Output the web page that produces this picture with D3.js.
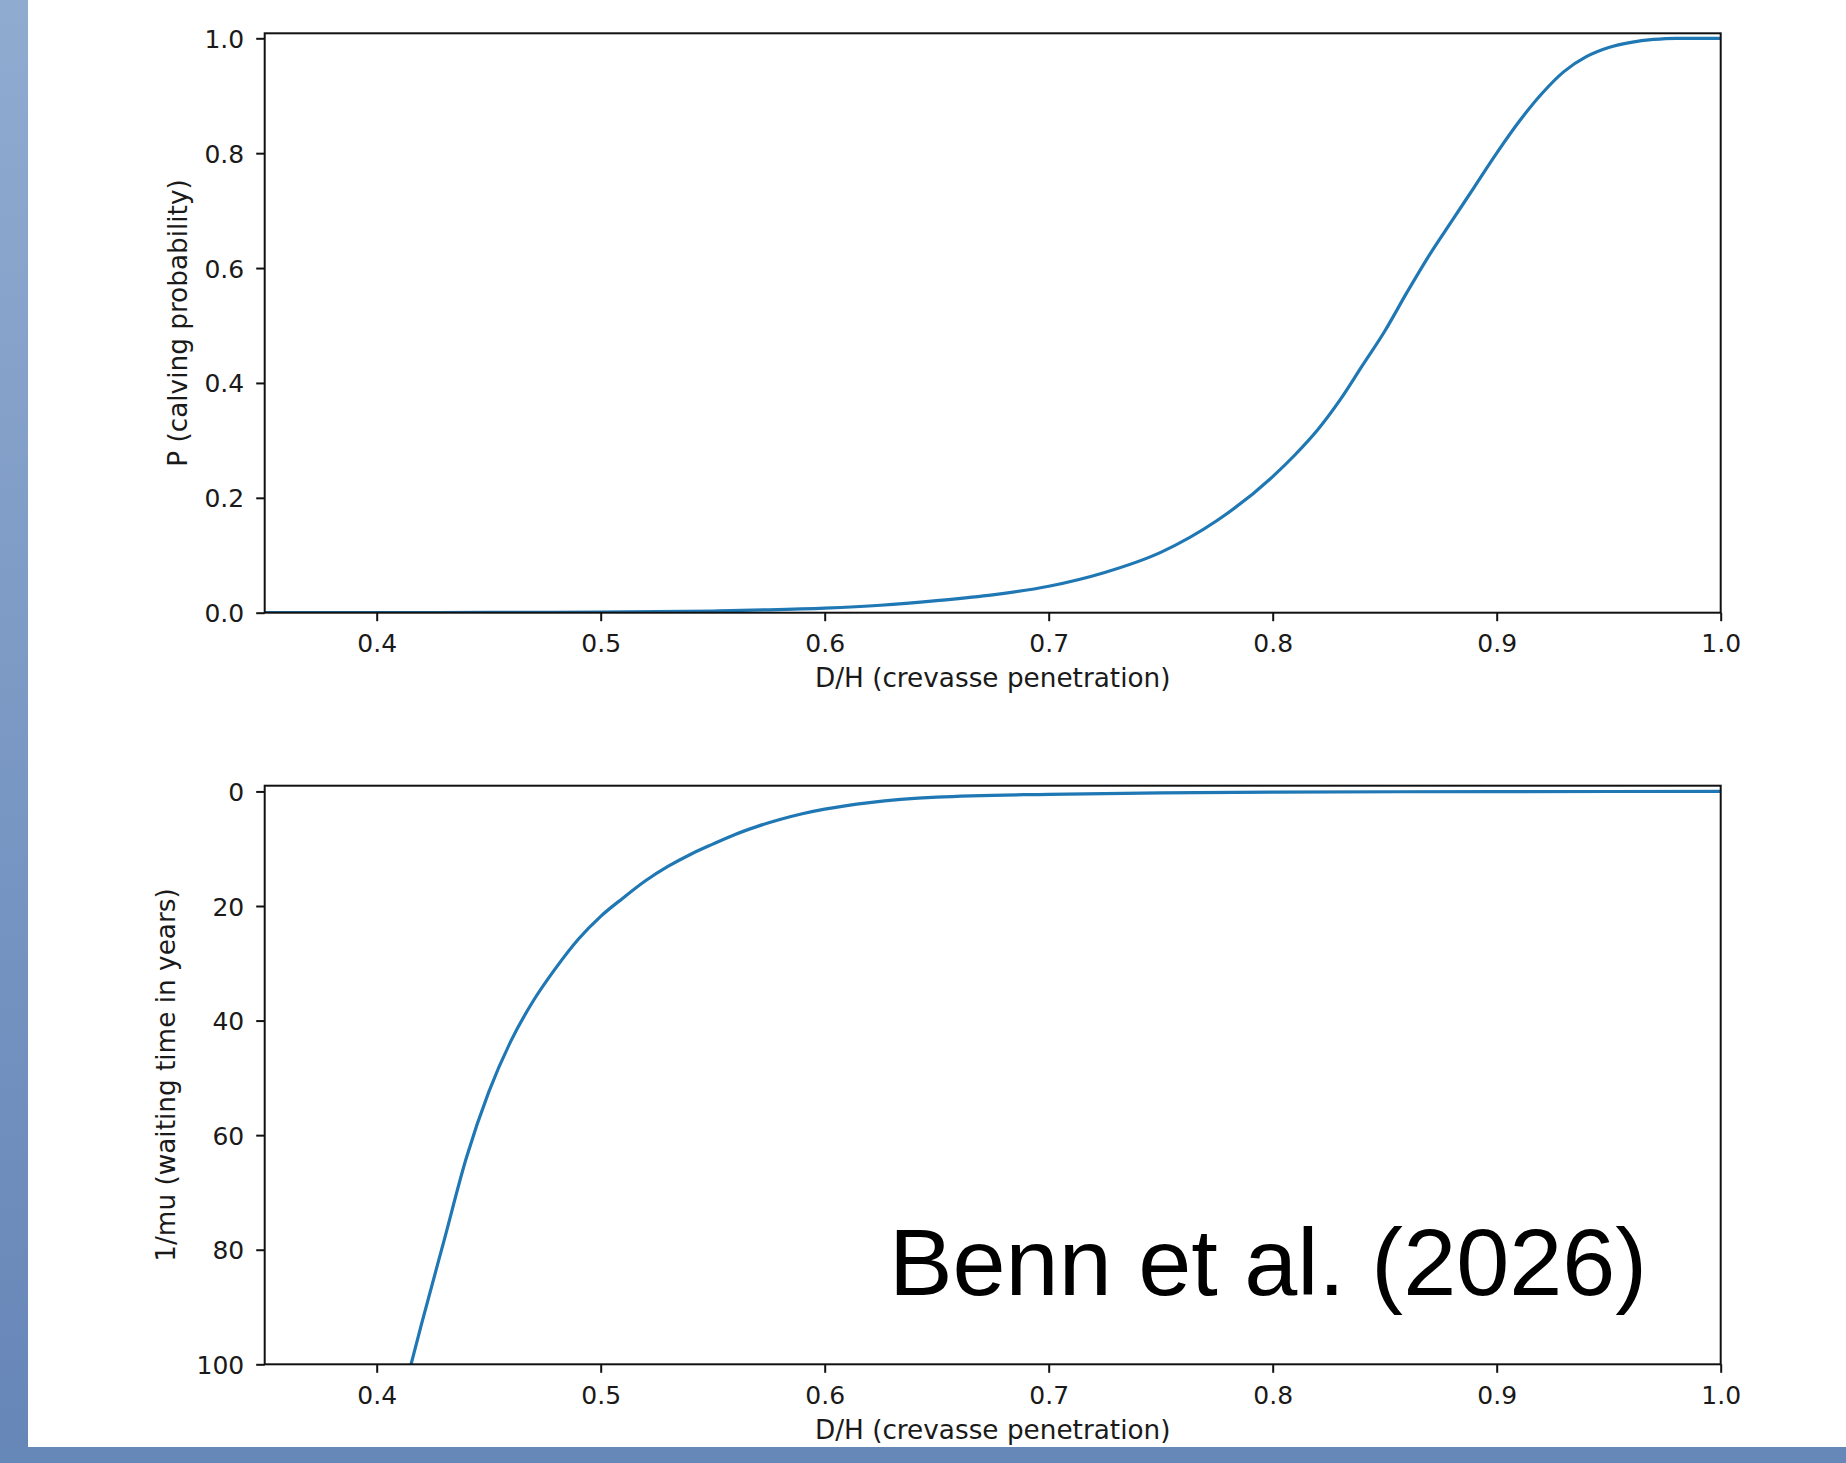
<!DOCTYPE html>
<html>
<head>
<meta charset="utf-8">
<script src="https://cdn.jsdelivr.net/npm/d3@7"></script>
<style>
  html, body { margin: 0; padding: 0; background: #fff; }
  svg { display: block; }
</style>
</head>
<body>
<svg id="chart" width="1846" height="1463"></svg>
<script>
// ---- data ----
const dhTop = [0.35, 0.40, 0.45, 0.50, 0.55, 0.575, 0.60, 0.625, 0.65, 0.675, 0.70, 0.725, 0.75, 0.775, 0.80, 0.81, 0.82, 0.83, 0.84, 0.85, 0.86, 0.87, 0.88, 0.89, 0.90, 0.91, 0.92, 0.93, 0.94, 0.95, 0.96, 0.97, 0.98, 0.99, 1.00];
const calvingP = [0.0, 0.0, 0.0005, 0.001, 0.003, 0.005, 0.008, 0.013, 0.021, 0.031, 0.046, 0.070, 0.105, 0.160, 0.237, 0.275, 0.318, 0.370, 0.430, 0.490, 0.558, 0.623, 0.682, 0.741, 0.800, 0.855, 0.903, 0.942, 0.968, 0.984, 0.993, 0.998, 1.0, 1.0, 1.0];

const dhBottom = [0.41, 0.42, 0.43, 0.44, 0.45, 0.46, 0.47, 0.48, 0.49, 0.50, 0.51, 0.52, 0.53, 0.54, 0.55, 0.56, 0.57, 0.58, 0.59, 0.60, 0.62, 0.65, 0.70, 0.75, 0.80, 0.90, 1.00];
const waitingYears = [108, 93, 78.5, 64, 52.5, 43.5, 36.5, 30.8, 25.8, 21.8, 18.6, 15.6, 13.1, 11.0, 9.2, 7.5, 6.1, 4.9, 3.9, 3.1, 1.95, 1.0, 0.5, 0.25, 0.12, 0.03, 0.0];

const xTicks = [0.4, 0.5, 0.6, 0.7, 0.8, 0.9, 1.0];
const yTicksTop = [0.0, 0.2, 0.4, 0.6, 0.8, 1.0];
const yTicksBottom = [0, 20, 40, 60, 80, 100];

const xLabel = "D/H (crevasse penetration)";
const yLabelTop = "P (calving probability)";
const yLabelBottom = "1/mu (waiting time in years)";
const creditText = "Benn et al. (2026)";

// ---- drawing ----
const svg = d3.select("#chart");
const FONT = "'DejaVu Sans', sans-serif";
const TXT = "#1a1a1a";
const BLUE = "#1f77b4";
const TICK_FS = 25, LABEL_FS = 26.3;

const defs = svg.append("defs");
const grad = defs.append("linearGradient").attr("id", "band").attr("x1", 0).attr("y1", 0).attr("x2", 0).attr("y2", 1);
grad.append("stop").attr("offset", "0%").attr("stop-color", "#90abd0");
grad.append("stop").attr("offset", "100%").attr("stop-color", "#6686b8");

svg.append("rect").attr("x", 0).attr("y", 0).attr("width", 1846).attr("height", 1463).attr("fill", "#fff");
svg.append("rect").attr("x", 0).attr("y", 0).attr("width", 28).attr("height", 1463).attr("fill", "url(#band)");
svg.append("rect").attr("x", 0).attr("y", 1447).attr("width", 1846).attr("height", 16).attr("fill", "#6688b8");

const L = 264.7, R = 1720.7;
const x = d3.scaleLinear().domain([0.35, 1.0]).range([L, R]);

function panel(opts) {
  const { top, bottom, yScale, yTicks, yFmt, xs, ys, yLabel, yLabelX, id } = opts;
  const g = svg.append("g");

  defs.append("clipPath").attr("id", id)
    .append("rect").attr("x", L).attr("y", top).attr("width", R - L).attr("height", bottom - top);

  const line = d3.line().curve(d3.curveMonotoneX).x((d, i) => x(xs[i])).y(d => yScale(d));
  g.append("path")
    .datum(ys)
    .attr("clip-path", `url(#${id})`)
    .attr("fill", "none")
    .attr("stroke", BLUE)
    .attr("stroke-width", 3.2)
    .attr("stroke-linejoin", "round")
    .attr("d", line);

  // frame
  g.append("rect").attr("x", L).attr("y", top).attr("width", R - L).attr("height", bottom - top)
    .attr("fill", "none").attr("stroke", "#111").attr("stroke-width", 2);

  // x axis
  const xa = g.append("g").attr("transform", `translate(0,${bottom})`)
    .call(d3.axisBottom(x).tickValues(xTicks).tickFormat(d3.format(".1f")).tickSize(8.5).tickSizeOuter(0));
  xa.select(".domain").remove();
  xa.selectAll(".tick line").attr("stroke", "#111").attr("stroke-width", 2);
  xa.selectAll(".tick text").attr("y", 39.5).attr("dy", null)
    .attr("font-family", FONT).attr("font-size", TICK_FS).attr("fill", TXT);

  // y axis
  const ya = g.append("g").attr("transform", `translate(${L},0)`)
    .call(d3.axisLeft(yScale).tickValues(yTicks).tickFormat(yFmt).tickSize(8.5).tickSizeOuter(0));
  ya.select(".domain").remove();
  ya.selectAll(".tick line").attr("stroke", "#111").attr("stroke-width", 2);
  ya.selectAll(".tick text").attr("x", -20.5).attr("dy", "0.36em")
    .attr("font-family", FONT).attr("font-size", TICK_FS).attr("fill", TXT);

  // labels
  g.append("text").attr("x", (L + R) / 2).attr("y", bottom + 74.5)
    .attr("text-anchor", "middle").attr("font-family", FONT).attr("font-size", LABEL_FS).attr("fill", TXT)
    .text(xLabel);
  g.append("text")
    .attr("transform", `translate(${yLabelX},${(top + bottom) / 2}) rotate(-90)`)
    .attr("text-anchor", "middle").attr("font-family", FONT).attr("font-size", LABEL_FS).attr("fill", TXT)
    .text(yLabel);
  return g;
}

const yTop = d3.scaleLinear().domain([0, 1.0087]).range([612.7, 33.3]);
panel({ top: 33.3, bottom: 612.7, yScale: yTop, yTicks: yTicksTop, yFmt: d3.format(".1f"),
        xs: dhTop, ys: calvingP, yLabel: yLabelTop, yLabelX: 187, id: "clipTop" });

const yBot = d3.scaleLinear().domain([-1.0, 100]).range([785.7, 1364.3]);
panel({ top: 785.7, bottom: 1364.3, yScale: yBot, yTicks: yTicksBottom, yFmt: d3.format("d"),
        xs: dhBottom, ys: waitingYears, yLabel: yLabelBottom, yLabelX: 175, id: "clipBot" });

svg.append("text").attr("x", 889).attr("y", 1295)
  .attr("font-family", "'Liberation Sans', Arial, sans-serif").attr("font-size", 94).attr("fill", "#000")
  .attr("textLength", 758).attr("lengthAdjust", "spacingAndGlyphs")
  .text(creditText);
</script>
</body>
</html>
